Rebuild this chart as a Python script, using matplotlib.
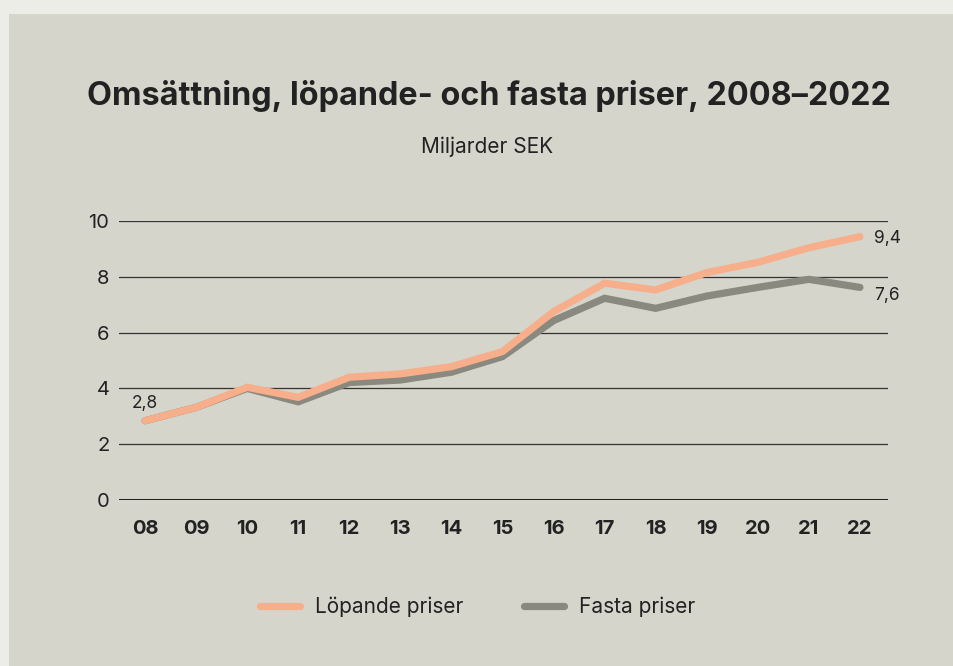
import matplotlib
matplotlib.use("Agg")
from matplotlib import pyplot as plt
from matplotlib.patches import Rectangle
#
# data (miljarder SEK)
# -------------------------------------------------
#
years = [2008, 2009, 2010, 2011, 2012, 2013, 2014, 2015,
         2016, 2017, 2018, 2019, 2020, 2021, 2022]
year_labels = ['08', '09', '10', '11', '12', '13', '14', '15',
               '16', '17', '18', '19', '20', '21', '22']
lopande = [2.84, 3.32, 4.04, 3.68, 4.40, 4.52, 4.78, 5.32,
           6.75, 7.77, 7.53, 8.15, 8.52, 9.04, 9.44]
fasta = [2.84, 3.32, 4.00, 3.52, 4.21, 4.30, 4.58, 5.14,
         6.43, 7.23, 6.87, 7.31, 7.62, 7.91, 7.62]
yticks = [0, 2, 4, 6, 8, 10]
#
# colours
# -------
#
outer_bg = '#ededE7'
panel_bg = '#d5d5cc'
orange = '#f7ae8b'
grey = '#89897f'
text_col = '#222222'

plt.rcParams['font.family'] = ['Inter', 'DejaVu Sans']

fig = plt.figure(figsize=(9.54, 6.66), dpi=100)
fig.patch.set_facecolor(outer_bg)
# the grey panel behind the chart
fig.patches.append(Rectangle((9 / 954, 0), 1, 1 - 14 / 666,
                             transform=fig.transFigure,
                             facecolor=panel_bg, edgecolor='none', zorder=-10))

ax = fig.add_axes([119 / 954, 1 - 500 / 666, (888 - 119) / 954, 279 / 666])
ax.set_facecolor('none')
ax.set_zorder(2)

for v in yticks:
    lw = 2.2 if v == 0 else 0.9
    ax.axhline(v, color=text_col if v == 0 else '#333333', lw=lw, zorder=1)

ax.plot(years, fasta, color=grey, lw=5.2, solid_capstyle='round',
        solid_joinstyle='miter', label='Fasta priser', zorder=3)
ax.plot(years, lopande, color=orange, lw=5.2, solid_capstyle='round',
        solid_joinstyle='miter', label='Löpande priser', zorder=4)

ax.set_xlim(2007.49, 2022.55)
ax.set_ylim(0, 10)
ax.set_xticks(years)
ax.set_xticklabels(year_labels, fontweight='bold', fontsize=14.5, color=text_col)
ax.set_yticks(yticks)
ax.set_yticklabels([str(v) for v in yticks], fontsize=14.5, color=text_col)
ax.tick_params(length=0)
ax.tick_params(axis='x', pad=14.5)
ax.tick_params(axis='y', pad=7)
for s in ax.spines.values():
    s.set_visible(False)

# end labels
ax.annotate('2,8', (years[0], lopande[0]), xytext=(0, 6),
            textcoords='offset points', ha='center', va='bottom',
            fontsize=12.5, color=text_col)
ax.annotate('9,4', (years[-1], lopande[-1]), xytext=(10.5, -1),
            textcoords='offset points', ha='left', va='center',
            fontsize=12.5, color=text_col)
ax.annotate('7,6', (years[-1], fasta[-1]), xytext=(10.5, -6),
            textcoords='offset points', ha='left', va='center',
            fontsize=12.5, color=text_col)

fig.text(489 / 954, 1 - 96 / 666, 'Omsättning, löpande- och fasta priser, 2008–2022',
         ha='center', va='center', fontsize=23.3, fontweight='bold', color=text_col)
fig.text(487 / 954, 1 - 147 / 666, 'Miljarder SEK', ha='center', va='center',
         fontsize=15, color=text_col)

handles, labels = ax.get_legend_handles_labels()
leg = fig.legend(handles[::-1], labels[::-1], loc='center',
                 bbox_to_anchor=(478 / 954, 1 - 607 / 666), ncol=2, frameon=False,
                 fontsize=15, handlelength=1.9, columnspacing=2.9,
                 handletextpad=0.75)
for t in leg.get_texts():
    t.set_color(text_col)

fig.savefig('out.png', dpi=100, facecolor=fig.get_facecolor())
